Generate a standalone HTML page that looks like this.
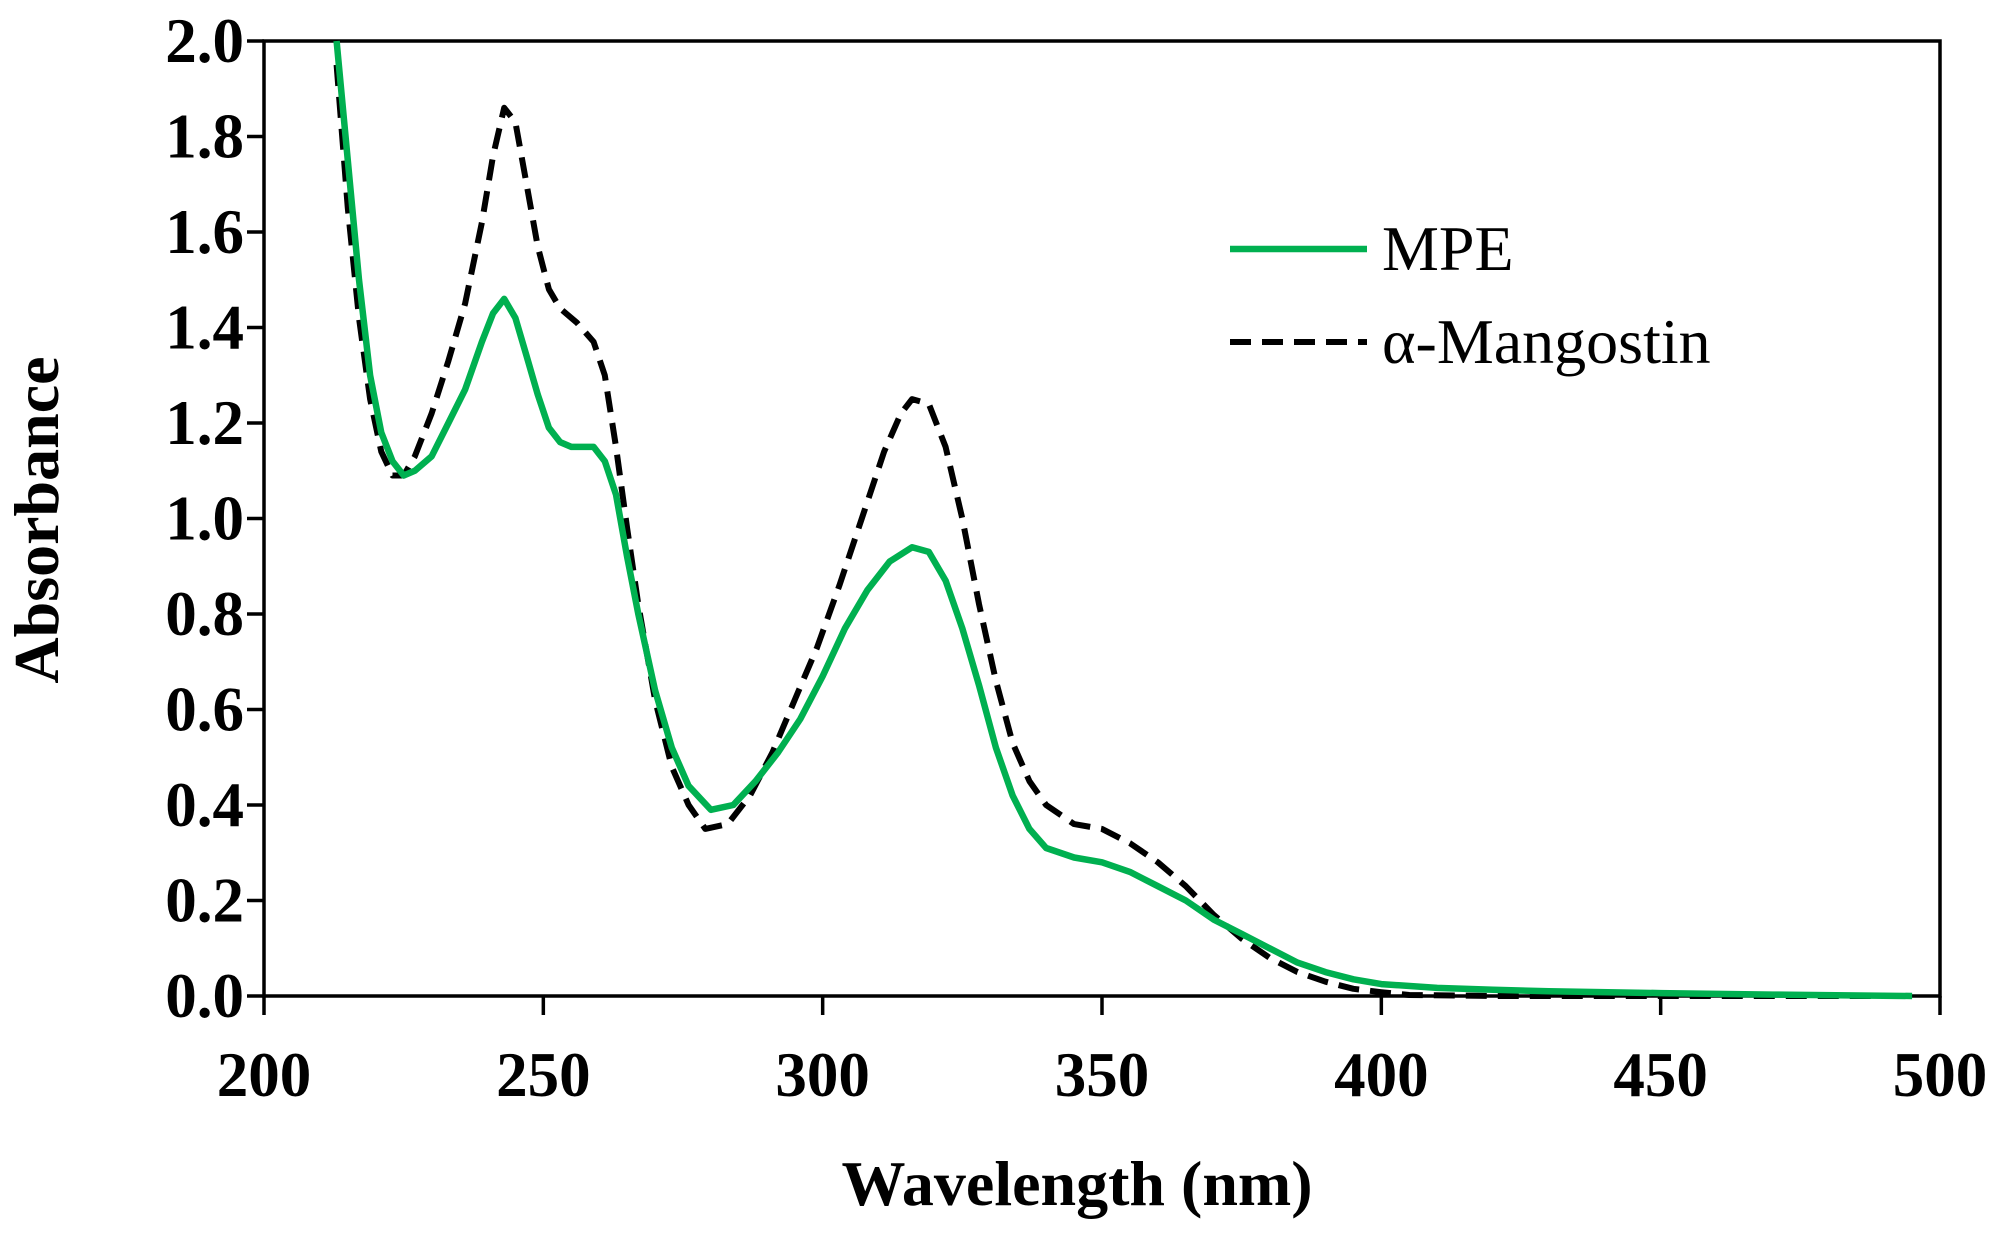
<!DOCTYPE html>
<html><head><meta charset="utf-8"><style>
html,body{margin:0;padding:0;background:#fff;}
svg text{font-family:"Liberation Serif",serif;}
</style></head><body>
<svg id="chart" width="2003" height="1234" viewBox="0 0 2003 1234" xmlns="http://www.w3.org/2000/svg">
<g id="axes"></g>
<g id="series"></g>
<g id="legend">
  <line x1="1230" y1="249" x2="1367" y2="249" stroke="#00b050" stroke-width="6.5"/>
  <text x="1382" y="270" font-size="64">MPE</text>
  <line x1="1230" y1="342" x2="1367" y2="342" stroke="#000" stroke-width="6" stroke-dasharray="21,11"/>
  <text x="1382" y="363" font-size="64">α-Mangostin</text>
</g>
<text x="1077" y="1205" font-size="64" font-weight="bold" text-anchor="middle">Wavelength (nm)</text>
<text transform="translate(58,520) rotate(-90)" font-size="64" font-weight="bold" text-anchor="middle">Absorbance</text>
</svg>
<script>
const xTicks = [200,250,300,350,400,450,500];
const yTicks = [0.0,0.2,0.4,0.6,0.8,1.0,1.2,1.4,1.6,1.8,2.0];
const mpeWl = [213,215,217,219,221,223,225,227,230,233,236,239,241,243,245,247,249,251,253,255,257,259,261,263,265,267,270,273,276,280,284,288,292,296,300,304,308,312,316,319,322,325,328,331,334,337,340,345,350,355,360,365,370,375,380,385,390,395,400,410,420,430,450,470,495];
const mpeAbs = [2.0,1.75,1.5,1.3,1.18,1.12,1.09,1.10,1.13,1.20,1.27,1.37,1.43,1.46,1.42,1.34,1.26,1.19,1.16,1.15,1.15,1.15,1.12,1.05,0.92,0.80,0.64,0.52,0.44,0.39,0.40,0.45,0.51,0.58,0.67,0.77,0.85,0.91,0.94,0.93,0.87,0.77,0.65,0.52,0.42,0.35,0.31,0.29,0.28,0.26,0.23,0.20,0.16,0.13,0.10,0.07,0.05,0.035,0.025,0.017,0.013,0.01,0.006,0.003,0.0];
const mangWl = [213,215,217,219,221,223,225,227,230,233,236,239,241,243,245,247,249,251,253,256,259,261,263,265,267,270,273,276,279,283,287,291,295,299,303,307,311,314,316,319,322,325,328,331,334,337,340,345,350,355,360,365,370,375,380,385,390,395,400,405,420,495];
const mangAbs = [1.95,1.65,1.42,1.25,1.14,1.09,1.09,1.13,1.22,1.33,1.45,1.62,1.76,1.86,1.83,1.70,1.57,1.48,1.44,1.41,1.37,1.30,1.15,0.98,0.82,0.62,0.48,0.40,0.35,0.36,0.42,0.51,0.62,0.73,0.86,1.00,1.14,1.22,1.25,1.24,1.15,1.00,0.82,0.66,0.53,0.45,0.40,0.36,0.35,0.32,0.28,0.23,0.17,0.12,0.08,0.05,0.03,0.015,0.008,0.002,0.0,0.0];

const L=264,R=1940,T=41,B=996;
const xs = v => L + (v-200)/300*(R-L);
const ys = v => B - v/2*(B-T);
const NS="http://www.w3.org/2000/svg";
const axes=document.getElementById('axes'), series=document.getElementById('series');
function mk(tag,attrs,parent){const e=document.createElementNS(NS,tag);for(const k in attrs)e.setAttribute(k,attrs[k]);parent.appendChild(e);return e;}

let frame=mk('rect',{x:L,y:T,width:R-L,height:B-T,fill:'none',stroke:'#000','stroke-width':3.5},axes);



xTicks.forEach(v=>{
  const t=mk('line',{x1:xs(v),x2:xs(v),y1:B,y2:B+19,stroke:'#000','stroke-width':3.5},axes);
  
  
  const l=mk('text',{x:xs(v),y:1096,'font-size':63,'font-weight':'bold','text-anchor':'middle'},axes);
  l.textContent=v;
  
  
});
yTicks.forEach(v=>{
  const t=mk('line',{x1:L-17,x2:L,y1:ys(v),y2:ys(v),stroke:'#000','stroke-width':3.5},axes);
  
  
  const l=mk('text',{x:244,y:ys(v)+21,'font-size':63,'font-weight':'bold','text-anchor':'end'},axes);
  l.textContent=v.toFixed(1);
  
  
});

function path(wl,ab){return wl.map((w,i)=>(i?'L':'M')+xs(w).toFixed(1)+','+ys(ab[i]).toFixed(1)).join(' ');}
const p2=mk('path',{d:path(mangWl,mangAbs),fill:'none',stroke:'#000','stroke-width':6,'stroke-dasharray':'21,11','stroke-linejoin':'round'},series);


const p1=mk('path',{d:path(mpeWl,mpeAbs),fill:'none',stroke:'#00b050','stroke-width':6.5,'stroke-linejoin':'round'},series);


</script>
</body></html>
